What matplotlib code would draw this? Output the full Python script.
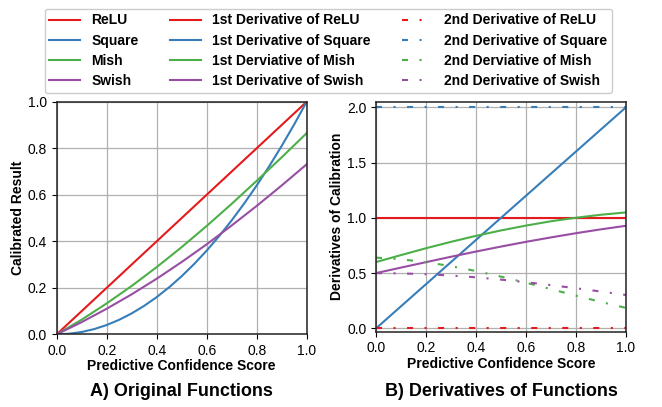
import matplotlib
matplotlib.use('Agg')
import matplotlib.pyplot as plt
import numpy as np

plt.rcParams['font.family'] = ['Liberation Sans', 'DejaVu Sans']

# predictive confidence score samples
x = [0.0, 0.1, 0.2, 0.3, 0.4, 0.5, 0.6, 0.7, 0.8, 0.9, 1.0]
x_sq = [0.0, 0.05, 0.1, 0.15, 0.2, 0.25, 0.3, 0.35, 0.4, 0.45, 0.5,
        0.55, 0.6, 0.65, 0.7, 0.75, 0.8, 0.85, 0.9, 0.95, 1.0]

# original functions
relu = [0.0, 0.1, 0.2, 0.3, 0.4, 0.5, 0.6, 0.7, 0.8, 0.9, 1.0]
square = [0.0, 0.0025, 0.01, 0.0225, 0.04, 0.0625, 0.09, 0.1225, 0.16, 0.2025, 0.25,
          0.3025, 0.36, 0.4225, 0.49, 0.5625, 0.64, 0.7225, 0.81, 0.9025, 1.0]
mish = [0.0, 0.063, 0.133, 0.208, 0.289, 0.375, 0.466, 0.561, 0.660, 0.761, 0.865]
swish = [0.0, 0.0525, 0.110, 0.172, 0.239, 0.311, 0.387, 0.468, 0.552, 0.640, 0.731]

# 1st derivatives
d1_relu = [1.0, 1.0, 1.0, 1.0, 1.0, 1.0, 1.0, 1.0, 1.0, 1.0, 1.0]
d1_square = [0.0, 0.2, 0.4, 0.6, 0.8, 1.0, 1.2, 1.4, 1.6, 1.8, 2.0]
d1_mish = [0.600, 0.663, 0.725, 0.783, 0.837, 0.886, 0.930, 0.969, 1.001, 1.028, 1.049]
d1_swish = [0.500, 0.550, 0.599, 0.648, 0.695, 0.740, 0.783, 0.823, 0.861, 0.896, 0.928]

# 2nd derivatives
d2_relu = [0.0, 0.0, 0.0, 0.0, 0.0, 0.0, 0.0, 0.0, 0.0, 0.0, 0.0]
d2_square = [2.0, 2.0, 2.0, 2.0, 2.0, 2.0, 2.0, 2.0, 2.0, 2.0, 2.0]
d2_mish = [0.640, 0.625, 0.599, 0.563, 0.519, 0.468, 0.413, 0.355, 0.296, 0.239, 0.185]
d2_swish = [0.500, 0.4975, 0.490, 0.478, 0.462, 0.441, 0.418, 0.391, 0.363, 0.333, 0.302]

c_red = '#e41a1c'
c_blue = '#377eb8'
c_green = '#4daf4a'
c_purple = '#984ea3'

lw = 1.5
dd = (0, (2.9, 5.5, 1.0, 5.5))

fig = plt.figure(figsize=(6.62, 4.07), dpi=100)
ax1 = fig.add_axes([0.0857, 0.1786, 0.3776, 0.5715])
ax2 = fig.add_axes([0.568, 0.1850, 0.3776, 0.5650])

h = []
h += ax1.plot(x, relu, color=c_red, lw=lw, label='ReLU')
h += ax1.plot(x_sq, square, color=c_blue, lw=lw, label='Square')
h += ax1.plot(x, mish, color=c_green, lw=lw, label='Mish')
h += ax1.plot(x, swish, color=c_purple, lw=lw, label='Swish')

h += ax2.plot(x, d1_relu, color=c_red, lw=lw, label='1st Derivative of ReLU')
h += ax2.plot(x, d1_square, color=c_blue, lw=lw, label='1st Derivative of Square')
h += ax2.plot(x, d1_mish, color=c_green, lw=lw, label='1st Derviative of Mish')
h += ax2.plot(x, d1_swish, color=c_purple, lw=lw, label='1st Derivative of Swish')

h += ax2.plot(x, d2_relu, color=c_red, lw=lw, ls=dd, label='2nd Derivative of ReLU')
h += ax2.plot(x, d2_square, color=c_blue, lw=lw, ls=dd, label='2nd Derivative of Square')
h += ax2.plot(x, d2_mish, color=c_green, lw=lw, ls=dd, label='2nd Derviative of Mish')
h += ax2.plot(x, d2_swish, color=c_purple, lw=lw, ls=dd, label='2nd Derivative of Swish')

for ax in (ax1, ax2):
    ax.set_xlim(0, 1)
    ax.set_xticks([0.0, 0.2, 0.4, 0.6, 0.8, 1.0])
    ax.grid(True, color='#b0b0b0', lw=0.9)
    ax.set_axisbelow(True)
    ax.tick_params(labelsize=10, length=3.5)
    ax.set_xlabel('Predictive Confidence Score', fontsize=10, fontweight='bold', labelpad=1)
    for s in ax.spines.values():
        s.set_color('#222222')
        s.set_linewidth(1.1)

ax1.set_ylim(0, 1)
ax1.set_yticks([0.0, 0.2, 0.4, 0.6, 0.8, 1.0])
ax1.set_ylabel('Calibrated Result', fontsize=10, fontweight='bold', labelpad=2)
ax2.set_ylim(-0.03, 2.05)
ax2.set_yticks([0.0, 0.5, 1.0, 1.5, 2.0])
ax2.set_ylabel('Derivatives of Calibration', fontsize=10, fontweight='bold', labelpad=2)

ax1.text(0.5, -0.248, 'A) Original Functions', transform=ax1.transAxes,
         ha='center', va='center', fontsize=13, fontweight='bold')
ax2.text(0.5, -0.262, 'B) Derivatives of Functions', transform=ax2.transAxes,
         ha='center', va='center', fontsize=13, fontweight='bold')

fig.legend(handles=h, loc='upper center', bbox_to_anchor=(0.496, 0.996), ncol=3,
           prop={'size': 10, 'weight': 'bold'}, handlelength=2.2, handletextpad=0.8,
           columnspacing=2.3, labelspacing=0.45, borderpad=0.35, framealpha=1,
           edgecolor='#cccccc', fancybox=True)

fig.savefig('out.png', dpi=100)
